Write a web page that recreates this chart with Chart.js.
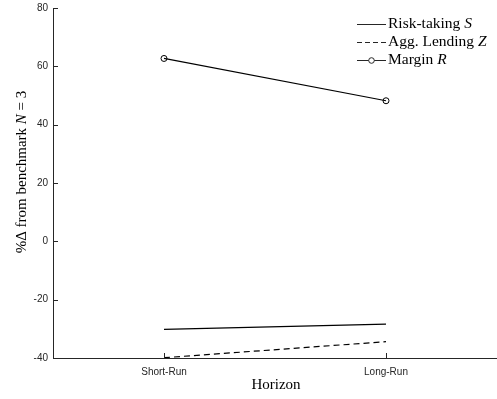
<!DOCTYPE html>
<html>
<head>
<meta charset="utf-8">
<script src="https://cdn.jsdelivr.net/npm/chart.js@4"></script>
<style>
  html, body { margin: 0; padding: 0; background: #fff; overflow: hidden; }
  #wrap { width: 497px; height: 399px; overflow: hidden; }
</style>
</head>
<body>
<!-- canvas a few px wider than the window: chart.js keeps ~5px on the right that the figure doesn't have -->
<div id="wrap"><canvas id="chart" width="502" height="399"></canvas></div>
<script>
const categories = ['Short-Run', 'Long-Run']
const riskTaking = [-30.2, -28.4]
const aggLending = [-39.9, -34.4]
const margin = [62.7, 48.2]
const yTicks = [-40, -20, 0, 20, 40, 60, 80]

const axisColor = '#262626'
const serif = "'Liberation Serif', 'DejaVu Serif', serif"

const toPoints = (vals) => vals.map((v, i) => ({x: i + 1, y: v}))

// legend entries: [plain text, italic symbol, dash, marker]
const legendItems = [
  ['Risk-taking ', 'S', [], false],
  ['Agg. Lending ', 'Z', [5, 3], false],
  ['Margin ', 'R', [], true],
]

const extras = {
  id: 'extras',
  afterDraw(chart) {
    const ctx = chart.ctx
    const {x, y} = chart.scales
    const area = chart.chartArea
    ctx.save()
    ctx.strokeStyle = axisColor
    ctx.lineWidth = 1
    // inward ticks
    yTicks.forEach(t => {
      const py = Math.round(y.getPixelForValue(t)) + 0.5
      ctx.beginPath()
      ctx.moveTo(area.left, py)
      ctx.lineTo(area.left + 5, py)
      ctx.stroke()
    })
    categories.forEach((c, i) => {
      const px = Math.round(x.getPixelForValue(i + 1)) + 0.5
      ctx.beginPath()
      ctx.moveTo(px, area.bottom)
      ctx.lineTo(px, area.bottom - 5)
      ctx.stroke()
    })

    // axis titles
    ctx.fillStyle = '#000'
    ctx.textBaseline = 'middle'
    ctx.font = '15px ' + serif
    ctx.textAlign = 'center'
    ctx.fillText('Horizon', (area.left + area.right) / 2 + 1, 385)

    ctx.translate(22, 172)
    ctx.rotate(-Math.PI / 2)
    const parts = [['%\u0394 from benchmark ', ''], ['N', 'italic '], [' = 3', '']]
    let total = 0
    parts.forEach(p => { ctx.font = p[1] + '15px ' + serif; total += ctx.measureText(p[0]).width })
    let cx = -total / 2
    ctx.textAlign = 'left'
    parts.forEach(p => {
      ctx.font = p[1] + '15px ' + serif
      ctx.fillText(p[0], cx, 0)
      cx += ctx.measureText(p[0]).width
    })
    ctx.setTransform(1, 0, 0, 1, 0, 0)

    // legend
    legendItems.forEach((item, i) => {
      const ly = 24 + i * 18
      ctx.setLineDash(item[2])
      ctx.beginPath()
      ctx.moveTo(357, ly + 0.5)
      ctx.lineTo(386, ly + 0.5)
      ctx.stroke()
      ctx.setLineDash([])
      if (item[3]) {
        ctx.fillStyle = '#fff'
        ctx.beginPath()
        ctx.arc(371.5, ly + 0.5, 2.8, 0, Math.PI * 2)
        ctx.fill()
        ctx.stroke()
      }
      ctx.fillStyle = '#000'
      ctx.font = '15.5px ' + serif
      ctx.fillText(item[0], 388, ly)
      const w = ctx.measureText(item[0]).width
      ctx.font = 'italic 15.5px ' + serif
      ctx.fillText(item[1], 388 + w, ly)
    })
    ctx.restore()
  }
}

new Chart(document.getElementById('chart'), {
  type: 'line',
  data: {
    datasets: [
      {
        label: 'Risk-taking S',
        data: toPoints(riskTaking),
        borderColor: '#000',
        borderWidth: 1.2,
        pointRadius: 0,
      },
      {
        label: 'Agg. Lending Z',
        data: toPoints(aggLending),
        borderColor: '#000',
        borderWidth: 1.2,
        borderDash: [6, 4],
        pointRadius: 0,
      },
      {
        label: 'Margin R',
        data: toPoints(margin),
        borderColor: '#000',
        borderWidth: 1.2,
        pointRadius: 3,
        pointBorderWidth: 1,
        pointBackgroundColor: 'rgba(255,255,255,0)',
        pointBorderColor: '#000',
      },
    ]
  },
  options: {
    responsive: false,
    animation: false,
    layout: {padding: {left: 0, top: 8, right: 0, bottom: 0}},
    plugins: {
      legend: {display: false},
      tooltip: {enabled: false},
    },
    scales: {
      x: {
        type: 'linear',
        min: 0.5,
        max: 2.5,
        afterFit: (s) => { s.height = 41; s.paddingLeft = 0; s.paddingRight = 0 },
        afterBuildTicks: (s) => { s.ticks = categories.map((c, i) => ({value: i + 1})) },
        grid: {display: true, drawOnChartArea: false, drawTicks: false},
        border: {display: true, color: axisColor, width: 1},
        ticks: {
          padding: 8,
          color: axisColor,
          font: {family: "'Liberation Sans', Arial, sans-serif", size: 10},
          callback: (v) => categories[v - 1] || '',
        },
      },
      y: {
        min: -40,
        max: 80,
        afterFit: (s) => { s.width = 53; s.paddingTop = 0; s.paddingBottom = 0 },
        afterBuildTicks: (s) => { s.ticks = yTicks.map(v => ({value: v})) },
        grid: {display: true, drawOnChartArea: false, drawTicks: false},
        border: {display: true, color: axisColor, width: 1},
        ticks: {
          padding: 5,
          color: axisColor,
          font: {family: "'Liberation Sans', Arial, sans-serif", size: 10},
        },
      },
    },
  },
  plugins: [extras],
})
</script>
</body>
</html>
